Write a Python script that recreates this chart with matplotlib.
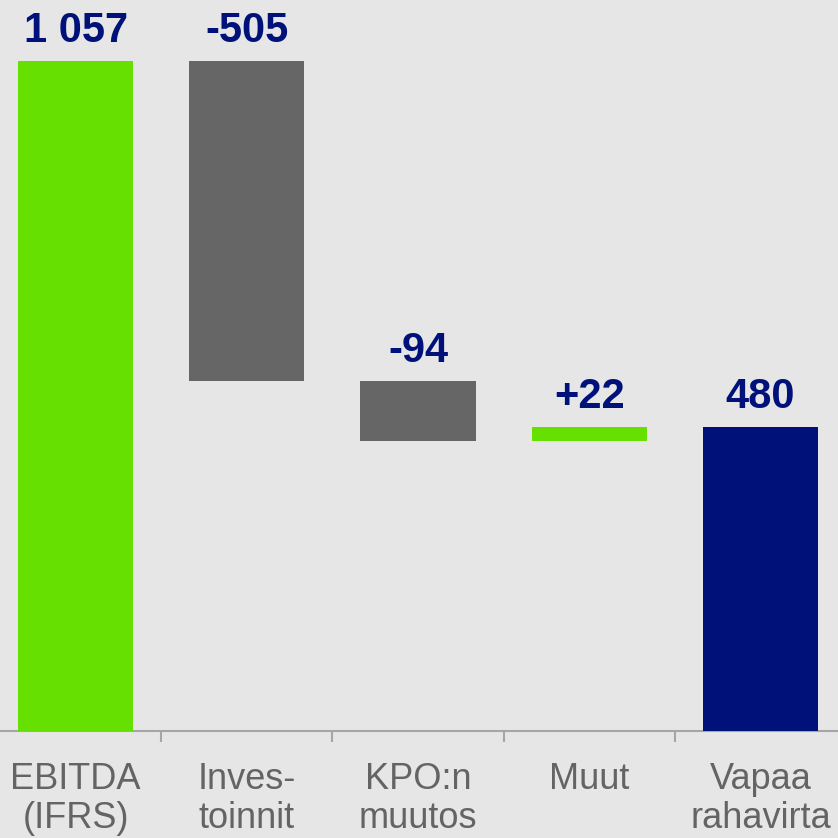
import matplotlib
matplotlib.use("Agg")
import matplotlib.pyplot as plt

categories = ["EBITDA\n(IFRS)", "Inves-\ntoinnit", "KPO:n\nmuutos", "Muut", "Vapaa\nrahavirta"]
values = [1057, -505, -94, 22, 480]
labels = ["1 057", "-505", "-94", "+22", "480"]
kinds = ["total", "delta", "delta", "delta", "total"]

GREEN = "#66e000"
GRAY = "#666666"
NAVY = "#00127a"
BG = "#e6e6e6"
AXIS = "#a6a6a6"

plt.rcParams["font.family"] = ["Liberation Sans", "DejaVu Sans"]

fig = plt.figure(figsize=(8.38, 8.38), dpi=100, facecolor=BG)
ax = fig.add_axes([-10 / 838, 107 / 838, 856 / 838, 731 / 838])
ax.set_facecolor(BG)

running = 0
bottoms, heights, colors, tops = [], [], [], []
for i, (v, k) in enumerate(zip(values, kinds)):
    if k == "total":
        b, h = 0, v
        running = v
        c = GREEN if i == 0 else NAVY
    else:
        if v >= 0:
            b, h = running, v
            c = GREEN
        else:
            b, h = running + v, -v
            c = GRAY
        running += v
    bottoms.append(b)
    heights.append(h)
    colors.append(c)
    tops.append(b + h)

x = list(range(len(categories)))
ax.bar(x, heights, bottom=bottoms, width=0.673, color=colors, edgecolor="none", zorder=3)

for xi, t, lab in zip(x, tops, labels):
    ax.annotate(lab, (xi, t), xytext=(0, 7), textcoords="offset points",
                ha="center", va="bottom", fontsize=30, fontweight="bold", color=NAVY)

ax.set_xlim(-0.5, len(categories) - 0.5)
ax.set_ylim(0, 1153)
ax.set_yticks([])
for s in ["top", "right", "left"]:
    ax.spines[s].set_visible(False)
ax.spines["bottom"].set_color(AXIS)
ax.spines["bottom"].set_linewidth(1.5)

ax.set_xticks(x)
ax.set_xticklabels(categories, fontsize=26, color="#646464", linespacing=1.17)
ax.tick_params(axis="x", which="major", length=0, pad=22)
ax.set_xticks([i + 0.5 for i in x[:-1]], minor=True)
ax.tick_params(axis="x", which="minor", length=8, width=1.5, color=AXIS, direction="out")

fig.savefig("out.png", dpi=100, facecolor=BG)
